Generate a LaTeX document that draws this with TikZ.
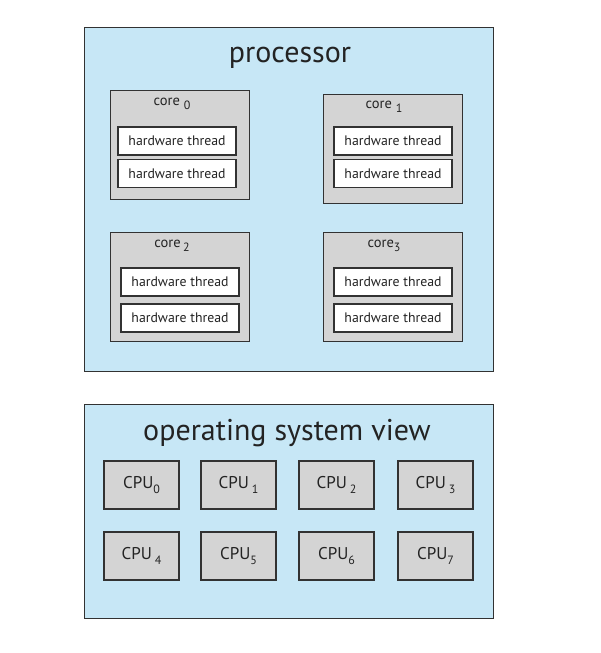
\documentclass[tikz,border=0pt]{standalone}
\usepackage{fontspec}
\setmainfont{PT Sans}
\usetikzlibrary{positioning}

\definecolor{paneblue}{RGB}{199,231,246}
\definecolor{coregray}{RGB}{212,212,212}
\definecolor{edgegray}{RGB}{50,50,50}
\definecolor{inkgray}{RGB}{35,35,35}

\newcommand{\lowidx}[1]{\raisebox{-0.5ex}{\fontsize{12}{12}\selectfont #1}}

\begin{document}
\begin{tikzpicture}[
    x=1pt, y=-1pt,
    every node/.style={text=inkgray},
    panel/.style={draw=edgegray, fill=paneblue, line width=1.4pt, anchor=north west, inner sep=0pt},
    corebox/.style={draw=edgegray, fill=coregray, line width=1.3pt, anchor=north west, minimum width=139pt, minimum height=109pt, inner sep=0pt},
    corelabel/.style={font=\fontsize{14.5}{16}\selectfont, inner sep=0pt},
    hwthread/.style={draw=edgegray, fill=white, line width=1.2pt, minimum width=118pt, minimum height=28pt, font=\fontsize{13.8}{15}\selectfont, inner sep=0pt},
    cpu/.style={draw=edgegray, fill=coregray, line width=1.3pt, minimum width=75pt, minimum height=48pt, font=\fontsize{17}{19}\selectfont, inner sep=0pt},
    title/.style={font=\fontsize{30}{33}\selectfont, inner sep=0pt}
]
\useasboundingbox (0,0) rectangle (600,653);

% Processor
\node[panel, minimum width=409pt, minimum height=344pt] (proc) at (84,27) {};
\node[title] (proctitle) at (290,58) {processor};

% Cores
\node[corebox] (core0) at (110,90) {};
\node[corebox] (core1) at (323,94) {};
\node[corebox] (core2) at (110,232) {};
\node[corebox] (core3) at (323,232) {};

\node[corelabel] (core0label) at (172,104) {core \lowidx{0}};
\node[corelabel] (core1label) at (384,107) {core \lowidx{1}};
\node[corelabel] (core2label) at (172,246) {core\,\lowidx{2}};
\node[corelabel] (core3label) at (384,246) {core\lowidx{3}};

% Hardware threads
\node[hwthread] (hw0a) at (177,141) {hardware thread};
\node[hwthread] (hw0b) at (177,173.5) {hardware thread};
\node[hwthread] (hw1a) at (393,141) {hardware thread};
\node[hwthread] (hw1b) at (393,173.5) {hardware thread};
\node[hwthread] (hw2a) at (180,282) {hardware thread};
\node[hwthread] (hw2b) at (180,318) {hardware thread};
\node[hwthread] (hw3a) at (393,282) {hardware thread};
\node[hwthread] (hw3b) at (393,318) {hardware thread};

% OS view
\node[panel, minimum width=409pt, minimum height=214pt] (osview) at (84,404) {};
\node[title] (ostitle) at (287,433) {operating system view};

\foreach \i/\x/\y/\gap in {0/141.5/485/, 1/238.5/485/\,, 2/336.5/485/\,, 3/435.5/485/\,,
                           4/141.5/556/\,, 5/238.5/556/, 6/336.5/556/, 7/435.5/556/}
    \node[cpu] (cpu\i) at (\x,\y) {CPU\gap\lowidx{\i}};
\end{tikzpicture}
\end{document}
